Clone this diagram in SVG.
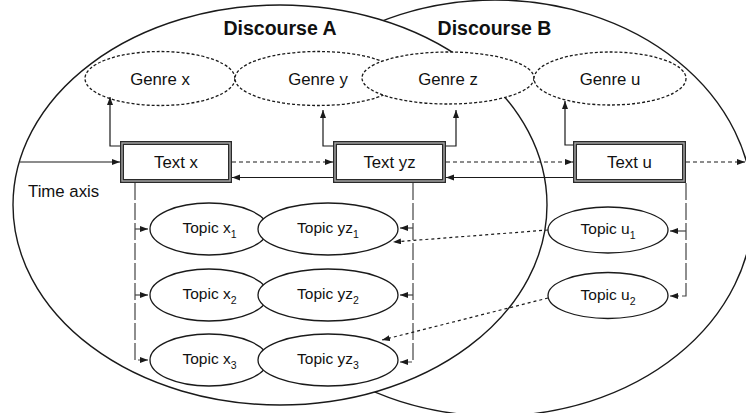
<svg xmlns="http://www.w3.org/2000/svg" width="746" height="413" viewBox="0 0 746 413">
<defs>
<marker id="ah" markerUnits="userSpaceOnUse" markerWidth="9" markerHeight="7" refX="8" refY="3" orient="auto">
<path d="M0,0 L8,3 L0,6 z" fill="#1a1a1a"/>
</marker>
<style>
.disc{fill:#fff;stroke:#1a1a1a;stroke-width:1.4}
.genre{fill:#fff;stroke:#1a1a1a;stroke-width:1.3;stroke-dasharray:3 2}
.topic{fill:#fff;stroke:#1a1a1a;stroke-width:1.3}
.box{fill:#fff;stroke:#2a2a2a;stroke-width:4}
.boxin{fill:none;stroke:#a8a8a8;stroke-width:1.4}
.ln{fill:none;stroke:#1a1a1a;stroke-width:1.2}
.dash{stroke-dasharray:4 3}
.dot{stroke-dasharray:3 3}
.brk{fill:none;stroke:#444;stroke-width:1.2;stroke-dasharray:17 3}
.lbl{font-family:"Liberation Sans",Arial,Helvetica,sans-serif;font-size:16.8px;fill:#111;text-anchor:middle}
.tp{font-family:"Liberation Sans",Arial,Helvetica,sans-serif;font-size:15.5px;fill:#111;text-anchor:middle}
.ttl{font-family:"Liberation Sans",Arial,Helvetica,sans-serif;font-size:19.5px;font-weight:bold;fill:#111;text-anchor:middle}
</style>
</defs>
<g id="discourse-b"><ellipse class="disc" cx="495" cy="208" rx="258" ry="208"/><text class="ttl" x="494.5" y="35">Discourse B</text></g>
<g id="discourse-a"><ellipse class="disc" cx="280" cy="205" rx="267" ry="200"/><text class="ttl" x="280" y="35">Discourse A</text></g>
<g id="genre-x"><ellipse class="genre" cx="160" cy="78.5" rx="75" ry="27"/><text class="lbl" x="160" y="85">Genre x</text></g>
<g id="genre-y"><ellipse class="genre" cx="318" cy="78.5" rx="83" ry="27"/><text class="lbl" x="318" y="85">Genre y</text></g>
<g id="genre-z"><ellipse class="genre" cx="448" cy="78" rx="86" ry="26"/><text class="lbl" x="448" y="85">Genre z</text></g>
<g id="genre-u"><ellipse class="genre" cx="610" cy="78.5" rx="76" ry="26.5"/><text class="lbl" x="610" y="85">Genre u</text></g>
<g id="text-x"><rect class="box" x="122" y="143" width="108" height="38"/><rect class="boxin" x="122" y="143" width="108" height="38"/><text class="lbl" x="176" y="168">Text x</text></g>
<g id="text-yz"><rect class="box" x="335" y="143" width="109" height="38"/><rect class="boxin" x="335" y="143" width="109" height="38"/><text class="lbl" x="389.5" y="168">Text yz</text></g>
<g id="text-u"><rect class="box" x="575" y="143" width="109" height="38"/><rect class="boxin" x="575" y="143" width="109" height="38"/><text class="lbl" x="629.5" y="168">Text u</text></g>
<g id="topic-x1"><ellipse class="topic" cx="209" cy="229" rx="59" ry="26"/><text class="tp" x="209.5" y="233">Topic x<tspan font-size="10.5" dy="5">1</tspan></text></g>
<g id="topic-yz1"><ellipse class="topic" cx="328" cy="229" rx="70" ry="26"/><text class="tp" x="328" y="233">Topic yz<tspan font-size="10.5" dy="5">1</tspan></text></g>
<g id="topic-x2"><ellipse class="topic" cx="209" cy="295" rx="59" ry="26"/><text class="tp" x="209.5" y="299">Topic x<tspan font-size="10.5" dy="5">2</tspan></text></g>
<g id="topic-yz2"><ellipse class="topic" cx="328" cy="295" rx="70" ry="26"/><text class="tp" x="328" y="299">Topic yz<tspan font-size="10.5" dy="5">2</tspan></text></g>
<g id="topic-x3"><ellipse class="topic" cx="209" cy="360" rx="59" ry="26"/><text class="tp" x="209.5" y="364">Topic x<tspan font-size="10.5" dy="5">3</tspan></text></g>
<g id="topic-yz3"><ellipse class="topic" cx="328" cy="360" rx="70" ry="26"/><text class="tp" x="328" y="364">Topic yz<tspan font-size="10.5" dy="5">3</tspan></text></g>
<g id="topic-u1"><ellipse class="topic" cx="608" cy="230" rx="60" ry="23"/><text class="tp" x="608" y="234">Topic u<tspan font-size="10.5" dy="5">1</tspan></text></g>
<g id="topic-u2"><ellipse class="topic" cx="608" cy="295.5" rx="60" ry="23"/><text class="tp" x="608" y="300">Topic u<tspan font-size="10.5" dy="5">2</tspan></text></g>
<g id="time-axis-label"><text class="lbl" x="28" y="197" style="text-anchor:start">Time axis</text></g>
<g id="connectors">
<path class="ln" d="M20,162 H120" marker-end="url(#ah)"/>
<path class="ln dash" d="M232,162 H333" marker-end="url(#ah)"/>
<path class="ln" d="M333,177.5 H232" marker-end="url(#ah)"/>
<path class="ln dash" d="M446,162 H573" marker-end="url(#ah)"/>
<path class="ln" d="M573,177.5 H446" marker-end="url(#ah)"/>
<path class="ln dash" d="M686,162 H745" marker-end="url(#ah)"/>
<path class="ln" d="M120,146 H110 V97" marker-end="url(#ah)"/>
<path class="ln" d="M333,146 H323 V110" marker-end="url(#ah)"/>
<path class="ln" d="M446,146 H456 V110" marker-end="url(#ah)"/>
<path class="ln" d="M573,145 H565 V101" marker-end="url(#ah)"/>
<path class="brk" d="M135,183 V360 H148" marker-end="url(#ah)"/>
<path class="brk" d="M135,229 H148" marker-end="url(#ah)"/>
<path class="brk" d="M135,295 H148" marker-end="url(#ah)"/>
<path class="brk" d="M413,183 V362 H400" marker-end="url(#ah)"/>
<path class="brk" d="M413,228 H400" marker-end="url(#ah)"/>
<path class="brk" d="M413,295 H400" marker-end="url(#ah)"/>
<path class="brk" d="M686,183 V296 H670" marker-end="url(#ah)"/>
<path class="brk" d="M686,231 H670" marker-end="url(#ah)"/>
<path class="ln dot" d="M548,230 L393,242" marker-end="url(#ah)"/>
<path class="ln dot" d="M548,298 L382,340" marker-end="url(#ah)"/>
</g>
</svg>
